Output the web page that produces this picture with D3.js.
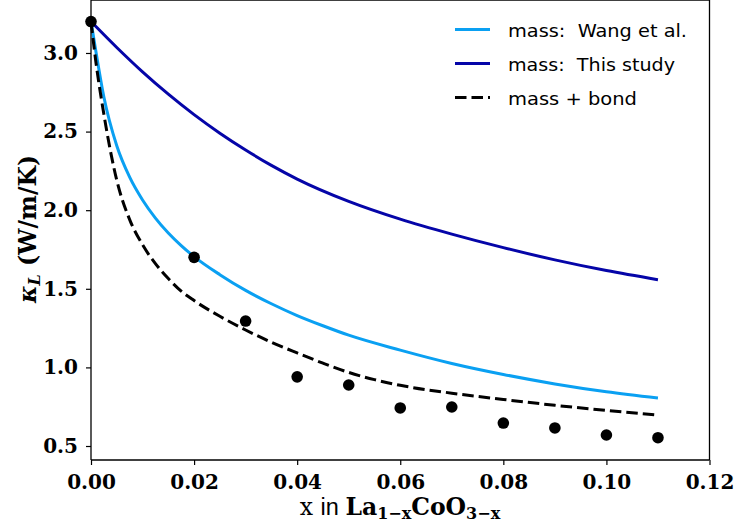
<!DOCTYPE html>
<html>
<head>
<meta charset="utf-8">
<script src="https://cdn.jsdelivr.net/npm/d3@7"></script>
<style>
  html, body { margin: 0; padding: 0; background: #fff; }
  svg { display: block; }
</style>
</head>
<body>
<div id="chart"></div>
<script>
// ---- data ----
const wangX = [0, 0.001, 0.0025, 0.005, 0.0075, 0.01, 0.0125, 0.015, 0.0175, 0.02, 0.025, 0.03, 0.035, 0.04, 0.045, 0.05, 0.06, 0.07, 0.08, 0.09, 0.10, 0.11];
const wangValues = [3.20, 3.00, 2.72, 2.41, 2.21, 2.065, 1.95, 1.855, 1.775, 1.705, 1.59, 1.49, 1.405, 1.33, 1.265, 1.205, 1.11, 1.025, 0.955, 0.895, 0.845, 0.805];
const thisStudyX = [0, 0.005, 0.01, 0.015, 0.02, 0.025, 0.03, 0.035, 0.04, 0.05, 0.06, 0.07, 0.08, 0.09, 0.10, 0.11];
const thisStudyValues = [3.20, 3.035, 2.88, 2.738, 2.608, 2.49, 2.383, 2.285, 2.198, 2.056, 1.943, 1.848, 1.762, 1.684, 1.616, 1.558];
const bondX = [0, 0.001, 0.0025, 0.005, 0.0075, 0.01, 0.0125, 0.015, 0.0175, 0.02, 0.025, 0.03, 0.035, 0.04, 0.045, 0.05, 0.055, 0.06, 0.07, 0.08, 0.09, 0.10, 0.11];
const bondValues = [3.20, 2.93, 2.61, 2.19, 1.94, 1.78, 1.66, 1.565, 1.485, 1.425, 1.325, 1.238, 1.16, 1.092, 1.027, 0.968, 0.922, 0.886, 0.836, 0.796, 0.759, 0.726, 0.697];
const expX = [0, 0.02, 0.03, 0.04, 0.05, 0.06, 0.07, 0.08, 0.09, 0.10, 0.11];
const expValues = [3.20, 1.70, 1.295, 0.94, 0.888, 0.742, 0.748, 0.646, 0.615, 0.57, 0.553];
const xTicks = [0, 0.02, 0.04, 0.06, 0.08, 0.10, 0.12];
const yTicks = [0.5, 1.0, 1.5, 2.0, 2.5, 3.0];
const legendLabels = ["mass:\u00a0 Wang et al.", "mass:\u00a0 This study", "mass + bond"];

const W = 735, H = 529;
const svg = d3.select("#chart").append("svg").attr("width", W).attr("height", H);

const x = d3.scaleLinear().domain([0, 0.12]).range([91, 709.5]);
const y = d3.scaleLinear().domain([0.411, 3.337]).range([460, 0]);

const colWang = "#0aa0f2", colThis = "#0505a8";

// curves
const line = d3.line().x(d => x(d[0])).y(d => y(d[1])).curve(d3.curveMonotoneX);
const series = [
  {xs: wangX, vals: wangValues, color: colWang, dash: null},
  {xs: thisStudyX, vals: thisStudyValues, color: colThis, dash: null},
  {xs: bondX, vals: bondValues, color: "#000", dash: "11.5,5"}
];
const plot = svg.append("g");
series.forEach(s => {
  plot.append("path")
    .datum(s.xs.map((xv, i) => [xv, s.vals[i]]))
    .attr("d", line)
    .attr("fill", "none")
    .attr("stroke", s.color)
    .attr("stroke-width", 3)
    .attr("stroke-dasharray", s.dash);
});

// experimental points
plot.selectAll("circle").data(expX.map((xv, i) => [xv, expValues[i]]))
  .enter().append("circle")
  .attr("cx", d => x(d[0])).attr("cy", d => y(d[1]))
  .attr("r", 5.8).attr("fill", "#000");

// axes
const tickFont = "'DejaVu Serif', serif";
const xAxis = svg.append("g").attr("transform", "translate(0,460)")
  .call(d3.axisBottom(x).tickValues(xTicks).tickFormat(d3.format(".2f")).tickSize(5).tickPadding(10));
const yAxis = svg.append("g").attr("transform", "translate(91,0)")
  .call(d3.axisLeft(y).tickValues(yTicks).tickFormat(d3.format(".1f")).tickSize(5).tickPadding(8));
[xAxis, yAxis].forEach(a => {
  a.select(".domain").remove();
  a.selectAll(".tick line").attr("stroke", "#000").attr("stroke-width", 1.2);
  a.selectAll(".tick text").attr("fill", "#000")
    .style("font-family", tickFont).style("font-weight", "bold").style("font-size", "20px");
});

// spines
const spines = svg.append("g").attr("stroke", "#000").attr("stroke-width", 1.3).attr("fill", "none");
spines.append("line").attr("x1", 91).attr("x2", 91).attr("y1", 0).attr("y2", 460);
spines.append("line").attr("x1", 709.5).attr("x2", 709.5).attr("y1", 0).attr("y2", 460);
spines.append("line").attr("x1", 91).attr("x2", 709.5).attr("y1", 460).attr("y2", 460);
spines.append("line").attr("x1", 91).attr("x2", 709.5).attr("y1", 0).attr("y2", 0);

// legend
const legWidths = [179, 167, 129];
const leg = svg.append("g");
series.forEach((s, i) => {
  const yy = 29.5 + i * 34;
  leg.append("line").attr("x1", 455).attr("x2", 490).attr("y1", yy).attr("y2", yy)
    .attr("stroke", s.color).attr("stroke-width", 3).attr("stroke-dasharray", s.dash);
  leg.append("text").attr("x", 508).attr("y", yy + 7)
    .attr("textLength", legWidths[i]).attr("lengthAdjust", "spacingAndGlyphs")
    .style("font-family", "'DejaVu Sans', sans-serif").style("font-size", "18.5px")
    .attr("fill", "#000").text(legendLabels[i]);
});

// x label
const xl = svg.append("text").attr("x", 400).attr("y", 515).attr("text-anchor", "middle")
  .attr("fill", "#000").style("font-size", "23.5px");
xl.append("tspan").style("font-family", "'DejaVu Serif', serif").text("x ");
xl.append("tspan").style("font-family", "'Liberation Sans', sans-serif").text("in ");
xl.append("tspan").style("font-family", "'DejaVu Serif', serif").style("font-weight", "bold").text("La");
xl.append("tspan").style("font-family", "'DejaVu Serif', serif").style("font-weight", "bold").style("font-size", "16px").attr("dy", 4).text("1−x");
xl.append("tspan").style("font-family", "'DejaVu Serif', serif").style("font-weight", "bold").attr("dy", -4).text("CoO");
xl.append("tspan").style("font-family", "'DejaVu Serif', serif").style("font-weight", "bold").style("font-size", "16px").attr("dy", 4).text("3−x");

// y label
const yl = svg.append("text").attr("transform", "translate(36,229) rotate(-90)").attr("text-anchor", "middle")
  .attr("fill", "#000").style("font-family", "'DejaVu Serif', serif").style("font-weight", "bold").style("font-size", "23.5px");
yl.append("tspan").style("font-style", "italic").text("κ");
yl.append("tspan").style("font-style", "italic").style("font-size", "16px").attr("dy", 4).text("L");
yl.append("tspan").attr("dy", -4).text(" (W/m/K)");
</script>
</body>
</html>
